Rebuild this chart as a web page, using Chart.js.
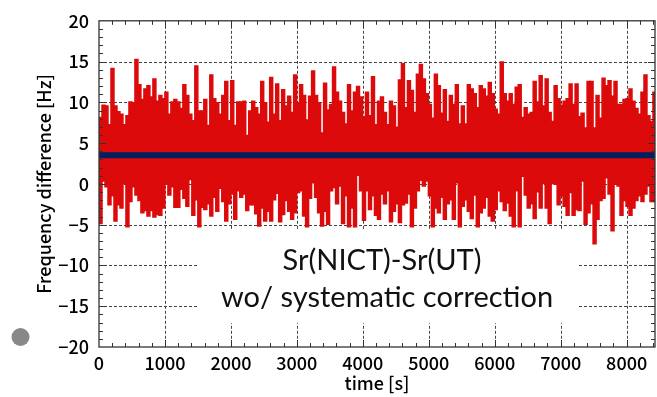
<!DOCTYPE html>
<html>
<head>
<meta charset="utf-8">
<script src="https://cdn.jsdelivr.net/npm/chart.js@4.4.1/dist/chart.umd.min.js"></script>
<style>
  html, body { margin: 0; padding: 0; background: #fff; }
  #wrap { width: 657px; height: 397px; }
</style>
</head>
<body>
<div id="wrap"><canvas id="myChart" width="657" height="397"></canvas></div>
<script>
// envelope of the trace, one column every STEP seconds
const upper = [
  8.2, 9.7, 9.6, 7.3, 14.2, 9.6, 8.9, 8.6, 7.3, 8.4,
  10.1, 10.0, 15.3, 12.2, 10.4, 11.7, 12.1, 10.7, 12.9, 10.2,
  10.9, 10.5, 11.3, 8.6, 10.1, 10.4, 10.1, 9.3, 12.2, 10.9,
  8.6, 7.8, 14.5, 9.0, 9.0, 10.4, 7.2, 13.4, 10.5, 10.0,
  8.6, 10.9, 12.6, 7.8, 12.7, 7.2, 10.1, 10.1, 10.2, 6.0,
  9.0, 10.2, 9.4, 8.6, 12.6, 10.0, 7.6, 13.1, 8.6, 12.3,
  7.8, 11.6,
  9.6, 10.8, 8.8, 13.4, 10.0, 12.2, 10.9, 7.9, 10.8, 13.9,
  10.9, 10.0, 6.3, 12.4, 9.1, 9.8, 14.4, 11.3, 10.2, 8.8,
  7.4, 12.2, 9.0, 11.3, 12.0, 10.7, 8.3, 11.3, 8.4, 13.2,
  7.3, 10.2, 10.7, 8.8, 7.3, 10.2, 9.6, 7.0, 12.8, 14.8,
  9.4, 12.7, 11.5, 8.8, 13.5, 14.7, 12.9, 11.1, 9.8, 8.1,
  13.5, 12.1, 8.7, 11.6, 7.7, 10.9, 9.8, 12.2, 7.4, 9.6,
  7.4, 12.2,
  11.7, 11.1, 9.4, 12.1, 11.7, 10.8, 12.5, 11.1, 9.2, 8.6,
  15.0, 11.1, 10.2, 11.1, 9.8, 11.9, 12.2, 8.2, 9.4, 8.6,
  8.8, 12.6, 10.1, 13.3, 9.6, 12.9, 8.8, 7.7, 12.1, 10.5,
  9.7, 10.2, 10.5, 12.3, 9.8, 12.3, 8.3, 8.7, 6.9, 12.6,
  12.6, 6.9, 10.9, 8.1, 13.0, 12.1, 12.7, 10.8, 12.6, 9.8,
  9.8, 10.4, 10.5, 11.7, 10.2, 9.3, 8.6, 11.3, 13.4, 8.4,
  7.7, 11.3
];
const lower = [
  -4.9, 0.3, -0.4, -2.6, -1.5, -4.6, -2.6, -3.0, 0.0, -5.3,
  -2.2, -0.4, -1.4, -2.1, -3.6, -3.3, -4.0, -3.3, -4.1, -3.8,
  -3.9, -3.0, 0.0, -1.4, -0.4, -2.9, -2.9, -0.7, -1.8, -2.8,
  0.5, -3.9, -2.0, -5.3, -2.9, -3.2, -2.5, -4.0, -1.7, -3.4,
  -0.6, -2.2, -4.6, -2.5, -1.3, -4.4, -0.9, -1.7, -1.3, -3.3,
  -2.6, -2.6, -3.7, -5.2, -3.0, -4.6, -3.4, -4.6, -2.0, -1.2,
  -4.7, -3.8,
  -2.1, -3.4, -4.4, -3.6, -1.1, -0.9, -4.0, -5.3, -1.8, 0.1,
  -1.7, -3.6, -5.2, -3.4, -5.0, -0.9, -0.5, -2.5, -0.3, -4.9,
  -1.5, -5.3, -3.0, -5.3, 1.0, -0.9, -4.5, -0.9, -3.2, -1.5,
  -3.9, -4.4, -1.3, -2.5, -0.9, -4.7, -3.4, -2.5, -4.8, -2.6,
  -2.4, -1.3, -5.3, -3.0, -0.9, 0.4, -0.3, 0.3, -1.5, -5.3,
  -3.0, -3.6, -1.7, -4.4, -2.5, -2.0, -4.4, 0.1, -5.3, -2.8,
  -2.0, -3.4,
  -4.3, -1.4, -5.3, -3.6, -3.0, -1.7, -4.0, -4.6, -3.2, -0.9,
  -2.2, -3.3, -2.4, -4.0, -5.3, -0.9, -5.3, 0.9, -1.4, -3.0,
  -2.5, -4.3, -1.0, -3.0, 0.0, -3.0, -4.9, 0.0, -0.1, -2.6,
  -1.5, -2.8, -3.9, -1.1, -3.9, -3.2, -3.3, 0.3, -5.0, -3.6,
  -2.5, -7.4, -4.4, -2.1, -1.8, 0.7, -1.3, -5.8, -0.1, -0.3,
  -3.9, -2.1, -2.8, -3.9, -3.0, -2.1, -1.5, -2.2, -1.3, -0.3,
  -2.2, -2.2
];
const STEP = 45.4;          // seconds per column
const meanLevel = 3.5;      // Hz
const xTicks = [0, 1000, 2000, 3000, 4000, 5000, 6000, 7000, 8000];
const yTicks = [-20, -15, -10, -5, 0, 5, 10, 15, 20];
const xMax = 8430;
const noteLines = ['Sr(NICT)-Sr(UT)', 'wo/ systematic correction'];

const times = upper.map((v, i) => (i + 0.5) * STEP);

const axisFont = { family: "'Noto Sans CJK JP', 'Noto Sans', sans-serif", size: 18, weight: '500' };
const lineCol = '#333';

function fmt(v) {
  return v < 0 ? '\u2212' + Math.abs(v) : String(v);
}

const decor = {
  id: 'decor',
  beforeDatasetsDraw(chart) {
    const ctx = chart.ctx, a = chart.chartArea;
    const xs = chart.scales.x, ys = chart.scales.y;
    ctx.save();
    ctx.strokeStyle = '#444';
    ctx.lineWidth = 1;
    ctx.setLineDash([3, 2]);
    xTicks.forEach(v => {
      if (v === 0) return;
      const px = Math.round(xs.getPixelForValue(v)) + 0.5;
      ctx.beginPath(); ctx.moveTo(px, a.top); ctx.lineTo(px, a.bottom); ctx.stroke();
    });
    yTicks.forEach(v => {
      if (v === 20 || v === -20) return;
      const py = Math.round(ys.getPixelForValue(v)) + 0.5;
      ctx.beginPath(); ctx.moveTo(a.left, py); ctx.lineTo(a.right, py); ctx.stroke();
    });
    ctx.restore();
  },
  afterDatasetsDraw(chart) {
    const ctx = chart.ctx, a = chart.chartArea;
    const xs = chart.scales.x, ys = chart.scales.y;
    ctx.save();
    // text box
    ctx.fillStyle = '#fff';
    ctx.fillRect(197, 229, 381, 94);
    ctx.fillStyle = '#111';
    ctx.textAlign = 'center';
    ctx.textBaseline = 'alphabetic';
    ctx.font = "29px Lato, 'Open Sans', sans-serif";
    ctx.fillText(noteLines[0], 382, 270);
    ctx.fillText(noteLines[1], 387, 307);

    // frame + ticks
    ctx.strokeStyle = lineCol;
    ctx.lineWidth = 1.3;
    ctx.strokeRect(a.left, a.top, a.right - a.left, a.bottom - a.top);
    ctx.lineWidth = 1;
    ctx.beginPath();
    for (let v = 200; v < xMax; v += 200) {
      const px = Math.round(xs.getPixelForValue(v)) + 0.5;
      const len = v % 1000 === 0 ? 7 : 4;
      ctx.moveTo(px, a.bottom); ctx.lineTo(px, a.bottom - len);
      ctx.moveTo(px, a.top); ctx.lineTo(px, a.top + len);
    }
    for (let v = -19; v < 20; v += 1) {
      const py = Math.round(ys.getPixelForValue(v)) + 0.5;
      const len = v % 5 === 0 ? 7 : 4;
      ctx.moveTo(a.left, py); ctx.lineTo(a.left + len, py);
      ctx.moveTo(a.right, py); ctx.lineTo(a.right - len, py);
    }
    ctx.stroke();

    // grey dot
    ctx.fillStyle = '#888';
    ctx.beginPath();
    ctx.arc(20.5, 337, 9, 0, Math.PI * 2);
    ctx.fill();
    ctx.restore();
  }
};

const config = {
  type: 'bar',
  data: {
    datasets: [
      {
        type: 'line',
        order: 0,
        data: [{ x: 0, y: meanLevel }, { x: xMax, y: meanLevel }],
        borderColor: '#002060',
        borderWidth: 6,
        pointRadius: 0
      },
      {
        type: 'bar',
        order: 1,
        data: times.map((t, i) => ({ x: t, y: [lower[i], upper[i]] })),
        backgroundColor: '#dc0a0a',
        borderWidth: 0,
        grouped: false,
        barThickness: 3.8
      }
    ]
  },
  options: {
    responsive: false,
    animation: false,
    layout: { padding: { top: 20, right: 2, left: 0, bottom: 0 } },
    plugins: { legend: { display: false }, tooltip: { enabled: false } },
    scales: {
      x: {
        type: 'linear',
        min: 0,
        max: xMax,
        offset: false,
        grid: { display: false, drawTicks: false },
        border: { display: false },
        afterBuildTicks: s => { s.ticks = xTicks.map(v => ({ value: v })); },
        afterFit: s => { s.height = 50; },
        ticks: { padding: 5, color: '#000', font: axisFont, maxRotation: 0, autoSkip: false, callback: fmt },
        title: { display: true, text: 'time [s]', color: '#000', font: axisFont, padding: { top: 0, bottom: 3 } }
      },
      y: {
        min: -20,
        max: 20,
        grid: { display: false, drawTicks: false },
        border: { display: false },
        afterBuildTicks: s => { s.ticks = yTicks.map(v => ({ value: v })); },
        afterFit: s => { s.width = 99; },
        ticks: { padding: 10, color: '#000', font: axisFont, callback: fmt },
        title: { display: true, text: 'Frequency difference [Hz]', color: '#000', font: axisFont, padding: { top: 33, bottom: 0 } }
      }
    }
  },
  plugins: [decor]
};

var myChart = new Chart(document.getElementById('myChart'), config);
</script>
</body>
</html>
